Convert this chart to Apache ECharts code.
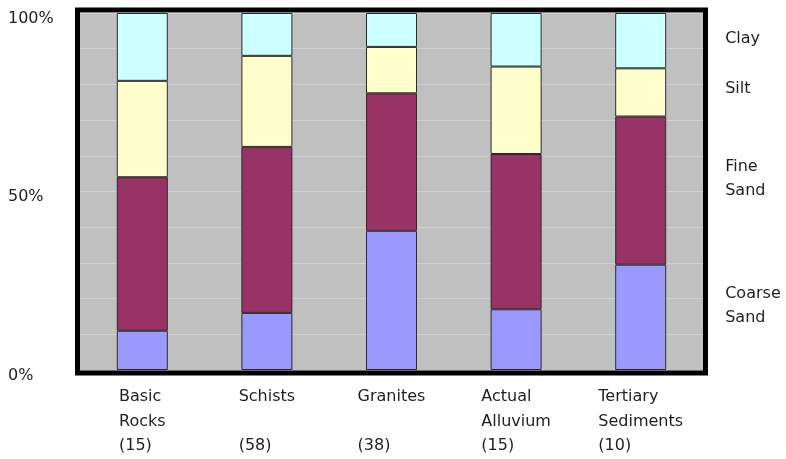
<!DOCTYPE html>
<html>
<head>
<meta charset="utf-8">
<script src="https://cdn.jsdelivr.net/npm/echarts@6/dist/echarts.min.js"></script>
<style>
  html, body { margin: 0; padding: 0; background: #ffffff; }
  #chart { width: 786px; height: 459px; }
</style>
</head>
<body>
<div id="chart"></div>
<script>
// Rock types with sample counts (one line per label row)
const categories = [
  'Basic\nRocks\n(15)',
  'Schists\n \n(58)',
  'Granites\n \n(38)',
  'Actual\nAlluvium\n(15)',
  'Tertiary\nSediments\n(10)'
];

// Grain-size fractions, percent of each sample
const coarseSand = [11, 16, 39, 17, 29.5];
const fineSand   = [43, 46.5, 38.5, 43.5, 41.5];
const silt       = [27, 25.5, 13, 24.5, 13.5];
const clay       = [19, 12, 9.5, 15, 15.5];

const seriesNames = ['Coarse\nSand', 'Fine\nSand', 'Silt', 'Clay'];
const yTickLabels = { 0: '0%', 50: '50%', 100: '100%' };

const FONT = '"DejaVu Sans", Verdana, sans-serif';
const TEXT_COLOR = '#1f1f1f';

const chart = echarts.init(document.getElementById('chart'), null, { renderer: 'canvas' });

// Name tag beside the last bar of each stack
function endLabel(name, dy) {
  return {
    show: true,
    position: 'right',
    distance: 59,
    offset: [0, dy],
    formatter: name,
    align: 'left',
    verticalAlign: 'middle',
    fontFamily: FONT,
    fontSize: 16,
    lineHeight: 24,
    color: TEXT_COLOR
  };
}

function stackSeries(name, values, color, dy) {
  return {
    name: name.replace('\n', ' '),
    type: 'bar',
    stack: 'total',
    barWidth: 51,
    itemStyle: { color: color, borderColor: '#2a2a2a', borderWidth: 1 },
    emphasis: { disabled: true },
    data: values.map((v, i) => i === values.length - 1
      ? { value: v, label: endLabel(name, dy) }
      : v)
  };
}

chart.setOption({
  animation: false,
  backgroundColor: '#ffffff',
  grid: {
    left: 80, right: 83, top: 13, bottom: 89,
    show: true,
    backgroundColor: '#c0c0c0',
    borderWidth: 0
  },
  xAxis: {
    type: 'category',
    data: categories,
    axisLine: { show: false },
    axisTick: { show: false },
    splitLine: { show: false },
    axisLabel: {
      interval: 0,
      margin: 15,
      align: 'center',
      verticalAlign: 'top',
      color: TEXT_COLOR,
      fontFamily: FONT,
      fontSize: 16,
      formatter: v => v.split('\n').map(l => '{a|' + l + '}').join('\n'),
      rich: {
        a: { align: 'left', fontFamily: FONT, fontSize: 16, lineHeight: 24.5, color: TEXT_COLOR }
      }
    }
  },
  yAxis: {
    type: 'value',
    min: 0,
    max: 100,
    interval: 10,
    axisLine: { show: false },
    axisTick: { show: false },
    splitLine: { show: true, lineStyle: { color: '#d0d0d0', width: 1 } },
    axisLabel: {
      margin: 72,
      align: 'left',
      verticalAlign: 'top',
      lineHeight: 11,
      color: TEXT_COLOR,
      fontFamily: FONT,
      fontSize: 16,
      formatter: v => yTickLabels[v] || ''
    }
  },
  series: [
    stackSeries(seriesNames[0], coarseSand, '#9999ff', -11),
    stackSeries(seriesNames[1], fineSand, '#993366', -12),
    stackSeries(seriesNames[2], silt, '#ffffcc', -4),
    stackSeries(seriesNames[3], clay, '#ccffff', -2)
  ],
  graphic: [
    {
      // heavy frame around the plot area
      type: 'rect',
      z: 100,
      silent: true,
      shape: { x: 77.5, y: 10, width: 628, height: 363 },
      style: { fill: null, stroke: '#000000', lineWidth: 5 }
    }
  ]
});
</script>
</body>
</html>
